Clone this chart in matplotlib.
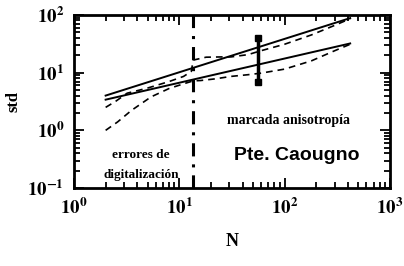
import matplotlib
matplotlib.use("Agg")
import matplotlib.pyplot as plt
import numpy as np

# ---- data ----
fit_upper_N = [2, 420]
fit_upper_std = [4.0, 88.0]
fit_lower_N = [2, 420]
fit_lower_std = [3.4, 32.0]

dash_a_N = [2.0, 2.6, 3.5, 5.4, 8.0, 11.0, 13.6, 16, 22, 31, 45, 60, 100, 180, 300, 420]
dash_a_std = [1.0, 1.4, 2.2, 3.8, 5.3, 6.4, 7.2, 7.3, 7.8, 8.6, 9.2, 9.8, 11.5, 16, 24, 31]

dash_b_N = [2.0, 2.5, 3.2, 5.0, 8.0, 11.0, 13.0, 13.6, 18, 25, 31, 45, 60, 100, 180, 300, 420]
dash_b_std = [2.5, 3.2, 4.4, 5.4, 7.0, 8.6, 10.5, 16.5, 18.5, 18.7, 18.7, 20.5, 24, 31, 45, 66, 86]

err_N = [56]
err_low = [6.9]
err_high = [40.0]

cut_N = 13.6

x_ticks = [1, 10, 100, 1000]
x_labels = [r'$\mathbf{10^{0}}$', r'$\mathbf{10^{1}}$', r'$\mathbf{10^{2}}$', r'$\mathbf{10^{3}}$']
y_ticks = [0.1, 1, 10, 100]
y_labels = [r'$\mathbf{10^{-1}}$', r'$\mathbf{10^{0}}$', r'$\mathbf{10^{1}}$', r'$\mathbf{10^{2}}$']

plt.rcParams['font.family'] = ['Liberation Serif', 'DejaVu Serif']
plt.rcParams['mathtext.fontset'] = 'stix'

fig = plt.figure(figsize=(4.04, 2.66), dpi=100)
ax = fig.add_axes([0.183, 0.293, 0.782, 0.651])

ax.set_xscale('log')
ax.set_yscale('log')
ax.set_xlim(1, 1000)
ax.set_ylim(0.1, 100)

ax.plot(fit_upper_N, fit_upper_std, color='black', lw=1.4)
ax.plot(fit_lower_N, fit_lower_std, color='black', lw=1.4)
ax.plot(dash_a_N, dash_a_std, color='black', lw=1.2, dashes=(4, 3))
ax.plot(dash_b_N, dash_b_std, color='black', lw=1.2, dashes=(4, 3))

ax.axvline(cut_N, color='black', lw=2.2, dashes=(4.3, 2.6, 1.0, 2.6))

ax.vlines(err_N, err_low, err_high, color='black', lw=2.5)
ax.plot(err_N, err_low, marker='s', color='black', ms=4)
ax.plot(err_N, err_high, marker='s', color='black', ms=4)

for s in ax.spines.values():
    s.set_linewidth(2)

ax.tick_params(which='both', direction='in', top=True, right=True, width=1.3)
ax.tick_params(which='major', length=7, pad=7)
ax.tick_params(which='minor', length=4)

ax.set_xticks(x_ticks)
ax.set_xticklabels(x_labels)
ax.set_yticks(y_ticks)
ax.set_yticklabels(y_labels)
for lab in ax.get_xticklabels() + ax.get_yticklabels():
    lab.set_fontsize(13.5)

ax.set_xlabel('N', fontsize=13, fontweight='bold', labelpad=11)
ax.set_ylabel('std', fontsize=12, fontweight='bold', labelpad=4)

ax.text(0.212, 0.19, 'errores de', transform=ax.transAxes, fontsize=9.5,
        fontweight='bold', ha='center', va='center')
ax.text(0.212, 0.075, 'digitalización', transform=ax.transAxes, fontsize=9.5,
        fontweight='bold', ha='center', va='center')
ax.text(0.68, 0.393, 'marcada anisotropía', transform=ax.transAxes, fontsize=10,
        fontweight='bold', ha='center', va='center')
ax.text(0.706, 0.19, 'Pte. Caougno', transform=ax.transAxes, fontsize=14,
        fontweight='bold', ha='center', va='center', family='Liberation Sans')

fig.savefig('out.png', dpi=100)
